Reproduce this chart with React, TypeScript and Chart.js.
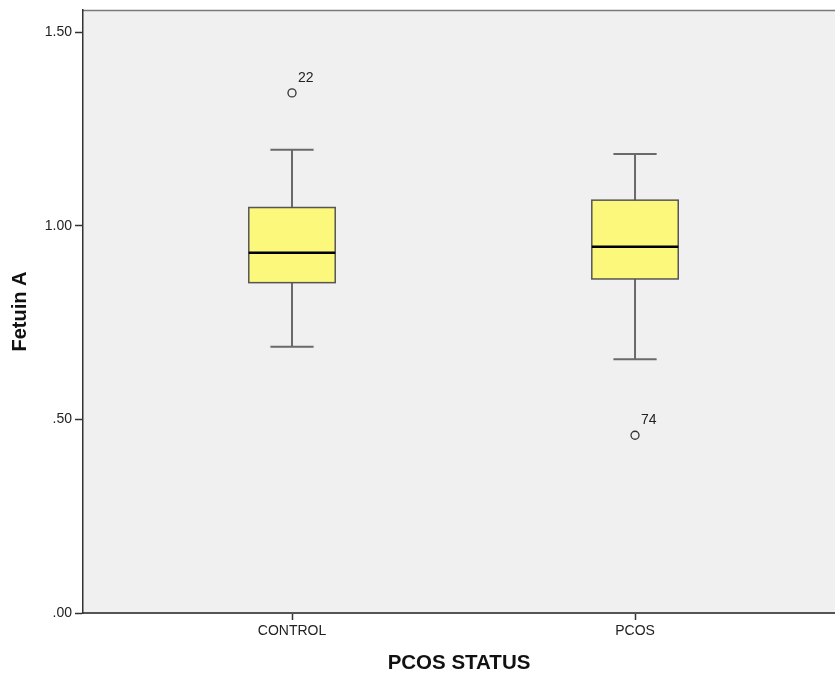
import React, { useEffect, useRef } from "react";
import { Chart, registerables } from "chart.js";

Chart.register(...registerables);

// ---- data ----
const categories = ["CONTROL", "PCOS"];
const whiskerLow = [0.6875, 0.655];
const q1Values = [0.853, 0.8625];
const medianValues = [0.93, 0.946];
const q3Values = [1.047, 1.066];
const whiskerHigh = [1.196, 1.185];
const outlierCategoryIndex = [0, 1];
const outlierValues = [1.343, 0.459];
const outlierIds = ["22", "74"];
const yTickValues = [0, 0.5, 1.0, 1.5];
const yAxisTitle = "Fetuin A";
const xAxisTitle = "PCOS STATUS";

// ---- style constants ----
const FONT = "'Liberation Sans', Arial, Helvetica, sans-serif";
const BOX_HALF = 0.126; // in x-axis units
const CAP_HALF = 0.063;
const PLOT_BG = "#f0f0f0";
const BOX_FILL = "#fcf87b";

const boxPlugin = {
  id: "boxPlugin",
  beforeDraw(chart: any) {
    const { ctx, chartArea } = chart;
    ctx.save();
    ctx.fillStyle = PLOT_BG;
    ctx.fillRect(chartArea.left, chartArea.top, chartArea.right - chartArea.left, chartArea.bottom - chartArea.top);
    ctx.strokeStyle = "#7a7a7a";
    ctx.lineWidth = 1.5;
    ctx.beginPath();
    ctx.moveTo(chartArea.left, chartArea.top + 0.5);
    ctx.lineTo(chartArea.right, chartArea.top + 0.5);
    ctx.stroke();
    ctx.restore();
  },
  beforeDatasetsDraw(chart: any) {
    const { ctx } = chart;
    const xs = chart.scales.x;
    const ys = chart.scales.y;
    ctx.save();
    categories.forEach((_, i) => {
      const xc = xs.getPixelForValue(i + 1);
      const xl = xs.getPixelForValue(i + 1 - BOX_HALF);
      const xr = xs.getPixelForValue(i + 1 + BOX_HALF);
      const cl = xs.getPixelForValue(i + 1 - CAP_HALF);
      const cr = xs.getPixelForValue(i + 1 + CAP_HALF);
      const yLo = ys.getPixelForValue(whiskerLow[i]);
      const yQ1 = ys.getPixelForValue(q1Values[i]);
      const yMed = ys.getPixelForValue(medianValues[i]);
      const yQ3 = ys.getPixelForValue(q3Values[i]);
      const yHi = ys.getPixelForValue(whiskerHigh[i]);

      // whiskers
      ctx.strokeStyle = "#6a6a6a";
      ctx.lineWidth = 2;
      ctx.beginPath();
      ctx.moveTo(xc, yQ3);
      ctx.lineTo(xc, yHi);
      ctx.moveTo(xc, yQ1);
      ctx.lineTo(xc, yLo);
      ctx.moveTo(cl, yHi);
      ctx.lineTo(cr, yHi);
      ctx.moveTo(cl, yLo);
      ctx.lineTo(cr, yLo);
      ctx.stroke();

      // box
      ctx.fillStyle = BOX_FILL;
      ctx.fillRect(xl, yQ3, xr - xl, yQ1 - yQ3);
      ctx.strokeStyle = "#555555";
      ctx.lineWidth = 1.5;
      ctx.strokeRect(xl, yQ3, xr - xl, yQ1 - yQ3);

      // median
      ctx.strokeStyle = "#000000";
      ctx.lineWidth = 2.5;
      ctx.beginPath();
      ctx.moveTo(xl, yMed);
      ctx.lineTo(xr, yMed);
      ctx.stroke();
    });
    ctx.restore();
  },
  afterDatasetsDraw(chart: any) {
    const { ctx } = chart;
    const xs = chart.scales.x;
    const ys = chart.scales.y;
    ctx.save();
    ctx.fillStyle = "#222222";
    ctx.font = `14px ${FONT}`;
    ctx.textAlign = "left";
    ctx.textBaseline = "middle";
    outlierValues.forEach((v, k) => {
      const px = xs.getPixelForValue(outlierCategoryIndex[k] + 1);
      const py = ys.getPixelForValue(v);
      ctx.fillText(outlierIds[k], px + 6, py - 15);
    });
    ctx.restore();
  },
};

export default function App() {
  const canvasRef = useRef<HTMLCanvasElement | null>(null);

  useEffect(() => {
    if (!canvasRef.current) return;
    Chart.defaults.font.family = FONT;
    const chart = new Chart(canvasRef.current, {
      type: "scatter",
      data: {
        datasets: [
          {
            label: "Outliers",
            data: outlierValues.map((v, k) => ({ x: outlierCategoryIndex[k] + 1, y: v })),
            pointStyle: "circle",
            pointRadius: 4,
            pointBorderWidth: 1.3,
            pointBorderColor: "#333333",
            pointBackgroundColor: "rgba(0,0,0,0)",
            pointHoverRadius: 4,
          },
        ],
      },
      options: {
        responsive: false,
        animation: false,
        events: [],
        layout: { autoPadding: false, padding: { top: 10, right: 0, bottom: 0, left: 0 } },
        plugins: {
          legend: { display: false },
          tooltip: { enabled: false },
        },
        scales: {
          x: {
            type: "linear",
            min: 0.3907,
            max: 2.583,
            afterFit(scale: any) {
              scale.height = 63;
              scale.paddingLeft = 0;
              scale.paddingRight = 0;
            },
            afterBuildTicks(scale: any) {
              scale.ticks = categories.map((_, i) => ({ value: i + 1 }));
            },
            ticks: {
              autoSkip: false,
              maxRotation: 0,
              padding: 3,
              color: "#222222",
              font: { size: 14 },
              callback: (v: any) => categories[Math.round(Number(v)) - 1] ?? "",
            },
            grid: {
              display: true,
              drawOnChartArea: false,
              drawTicks: true,
              tickLength: 7,
              tickColor: "#333333",
              tickWidth: 1.5,
            },
            border: { display: true, color: "#555555", width: 2 },
            title: {
              display: true,
              text: xAxisTitle,
              color: "#111111",
              font: { size: 20.5, weight: "bold" },
              padding: { top: 0, bottom: 0 },
            },
          },
          y: {
            type: "linear",
            min: 0,
            max: 1.557,
            afterFit(scale: any) {
              scale.width = 83;
              scale.paddingTop = 0;
              scale.paddingBottom = 0;
            },
            afterBuildTicks(scale: any) {
              scale.ticks = yTickValues.map((v) => ({ value: v }));
            },
            ticks: {
              padding: 3,
              color: "#222222",
              font: { size: 14 },
              callback: (v: any) => Number(v).toFixed(2).replace(/^0/, ""),
            },
            grid: {
              display: true,
              drawOnChartArea: false,
              drawTicks: true,
              tickLength: 8,
              tickColor: "#333333",
              tickWidth: 1.5,
            },
            border: { display: true, color: "#333333", width: 1.5 },
            title: {
              display: true,
              text: yAxisTitle,
              color: "#111111",
              font: { size: 20, weight: "bold" },
              padding: { top: 8, bottom: 0 },
            },
          },
        },
      },
      plugins: [boxPlugin],
    } as any);
    return () => chart.destroy();
  }, []);

  return (
    <div style={{ position: "absolute", left: 0, top: 0, width: 835, height: 676, background: "#ffffff" }}>
      <canvas ref={canvasRef} width={835} height={676} style={{ display: "block" }} />
    </div>
  );
}
